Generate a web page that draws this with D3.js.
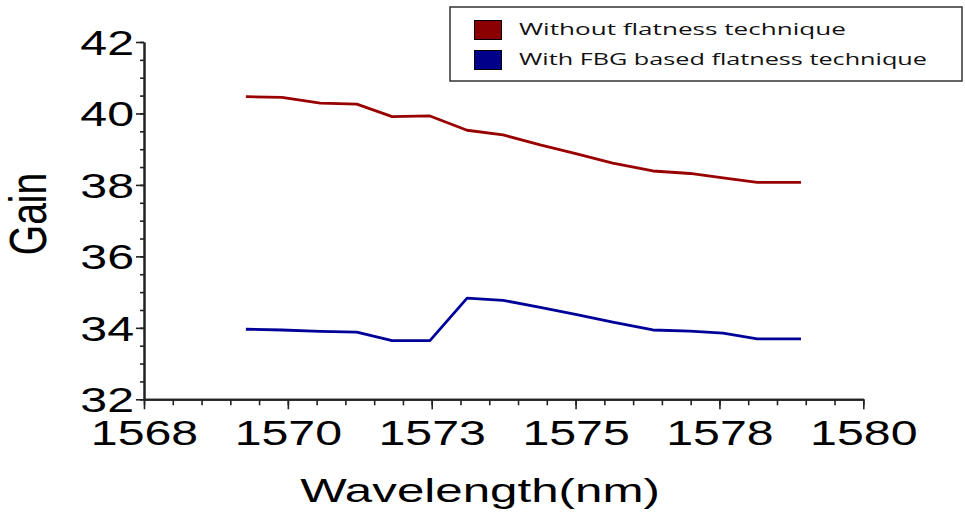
<!DOCTYPE html>
<html>
<head>
<meta charset="utf-8">
<script src="https://cdn.jsdelivr.net/npm/d3@7/dist/d3.min.js"></script>
<style>
  html, body { margin: 0; padding: 0; background: #fff; }
  svg { display: block; }
</style>
</head>
<body>
<svg id="chart" width="965" height="512"></svg>
<script>
// ---- data ----
const wavelengths = [1569.70, 1570.30, 1570.94, 1571.55, 1572.14, 1572.77, 1573.39, 1573.99,
                     1574.61, 1575.22, 1575.82, 1576.49, 1577.11, 1577.66, 1578.23, 1578.96];
const gainWithout = [40.47, 40.45, 40.29, 40.26, 39.91, 39.93, 39.53, 39.40,
                     39.12, 38.87, 38.61, 38.39, 38.32, 38.20, 38.07, 38.07];
const gainWithFBG = [33.96, 33.94, 33.90, 33.88, 33.64, 33.64, 34.83, 34.77,
                     34.57, 34.37, 34.16, 33.94, 33.91, 33.85, 33.69, 33.69];
const seriesNames = ["Without flatness technique", "With FBG based flatness technique"];
const xTickValues = [1568, 1570.4, 1572.8, 1575.2, 1577.6, 1580];
const xTickLabels = ["1568", "1570", "1573", "1575", "1578", "1580"];
const yTickValues = [32, 34, 36, 38, 40, 42];
const yTickLabels = ["32", "34", "36", "38", "40", "42"];
const xTitle = "Wavelength(nm)";
const yTitle = "Gain";

// ---- layout ----
const L = 144, R = 863.3, T = 42, B = 399.3;
const SX = 1.38; // horizontal stretch of the original picture
const axisColor = "#222";
const lineColors = ["#990000", "#000099"];
const swatchColors = ["#8b0000", "#00008b"];
const font = "'Liberation Sans', Arial, sans-serif";

const svg = d3.select("#chart");
const x = d3.scaleLinear().domain([1568, 1580]).range([L, R]);
const y = d3.scaleLinear().domain([32, 42]).range([B, T]);

// minor ticks
const xMinor = d3.range(0, 26).map(i => 1568 + i * 0.48).filter(v => v <= 1580.001);
const yMinor = d3.range(0, 21).map(i => 32 + i * 0.5);

// x axis
const gxMinor = svg.append("g").attr("transform", `translate(0,${B})`)
  .call(d3.axisBottom(x).tickValues(xMinor).tickSize(6).tickSizeOuter(0).tickFormat(""));
const gx = svg.append("g").attr("transform", `translate(0,${B})`)
  .call(d3.axisBottom(x).tickValues(xTickValues).tickSize(10).tickSizeOuter(0)
    .tickFormat((d, i) => xTickLabels[i]));
// y axis
const gyMinor = svg.append("g").attr("transform", `translate(${L},0)`)
  .call(d3.axisLeft(y).tickValues(yMinor).tickSize(4).tickSizeOuter(0).tickFormat(""));
const gy = svg.append("g").attr("transform", `translate(${L},0)`)
  .call(d3.axisLeft(y).tickValues(yTickValues).tickSize(8).tickSizeOuter(0)
    .tickFormat((d, i) => yTickLabels[i]));

[gxMinor, gx, gyMinor, gy].forEach(g => {
  g.selectAll("path.domain").attr("stroke", axisColor).attr("stroke-width", 2);
  g.selectAll(".tick line").attr("stroke", axisColor).attr("stroke-width", 1.6);
});

gx.selectAll(".tick text")
  .attr("x", 0).attr("y", 0).attr("dy", null)
  .attr("transform", `translate(0,45.5) scale(${SX},1)`)
  .attr("text-anchor", "middle")
  .style("font-family", font).style("font-size", "35px").attr("fill", "#000");

gy.selectAll(".tick text")
  .attr("x", 0).attr("y", 0).attr("dy", null)
  .attr("transform", `translate(-10,12.5) scale(${SX},1)`)
  .attr("text-anchor", "end")
  .style("font-family", font).style("font-size", "35px").attr("fill", "#000");

// lines
const series = [gainWithout, gainWithFBG];
const line = d3.line().x(d => x(d[0])).y(d => y(d[1]));
series.forEach((vals, si) => {
  svg.append("path")
    .datum(wavelengths.map((w, i) => [w, vals[i]]))
    .attr("d", line)
    .attr("fill", "none")
    .attr("stroke", lineColors[si])
    .attr("stroke-width", 2.8)
    .attr("stroke-linejoin", "round");
});

// axis titles
svg.append("text")
  .attr("transform", `translate(480,502) scale(1.45,1)`)
  .attr("text-anchor", "middle")
  .style("font-family", font).style("font-size", "34px")
  .text(xTitle);

svg.append("text")
  .attr("transform", `translate(46,214) scale(1.33,1) rotate(-90)`)
  .attr("text-anchor", "middle")
  .style("font-family", font).style("font-size", "39px")
  .text(yTitle);

// legend
const lg = svg.append("g");
lg.append("rect").attr("x", 450).attr("y", 7).attr("width", 512).attr("height", 74)
  .attr("fill", "#fff").attr("stroke", "#333").attr("stroke-width", 1.5);
const legendTargets = [327, 408];
seriesNames.forEach((name, i) => {
  lg.append("rect")
    .attr("x", 474.5).attr("y", 20.5 + i * 30).attr("width", 27).attr("height", 19)
    .attr("fill", swatchColors[i]).attr("stroke", "#000").attr("stroke-width", 1);
  const t = lg.append("text")
    .style("font-family", "'Open Sans', 'Noto Sans', sans-serif").style("font-size", "17px")
    .attr("fill", "#111")
    .text(name);
  const w = t.node().getComputedTextLength();
  const s = legendTargets[i] / w;
  t.attr("transform", `translate(519,${35 + i * 30}) scale(${s},1)`);
});
</script>
</body>
</html>
